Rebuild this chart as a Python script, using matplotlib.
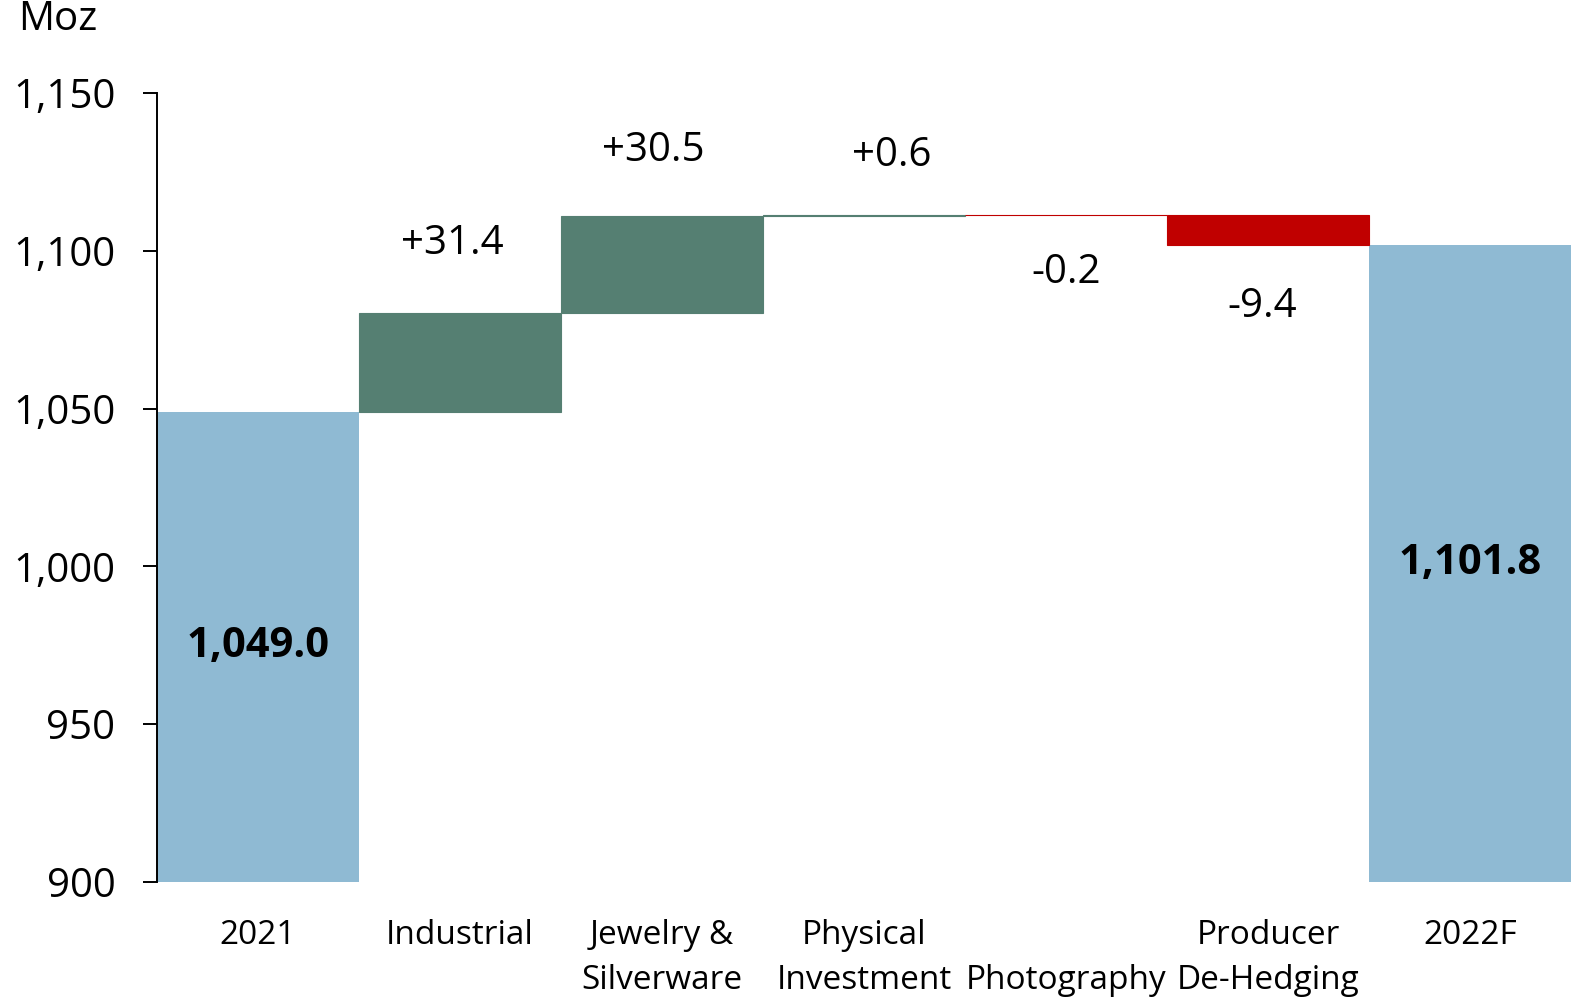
import matplotlib
matplotlib.use("Agg")
import matplotlib.pyplot as plt
import numpy as np

plt.rcParams['font.family'] = ['Open Sans', 'DejaVu Sans']

categories = ["2021", "Industrial", "Jewelry &\nSilverware", "Physical\nInvestment",
              "\nPhotography", "Producer\nDe-Hedging", "2022F"]
start_total = 1049.0
changes = [31.4, 30.5, 0.6, -0.2, -9.4]
end_total = 1101.8
yticks = [900, 950, 1000, 1050, 1100, 1150]

# label placement relative to the bar end, in pixels (dx, dy)
label_offsets = [(-8, 69), (-9, 66), (28, 59), (0, -58), (-6, -62)]

BLUE = "#8FBAD3"
GREEN = "#557F72"
RED = "#C00000"
Y_MIN, Y_MAX = 900, 1150
PX = 72 / 100  # points per pixel at 100 dpi

fig = plt.figure(figsize=(15.76, 10.02), dpi=100)
ax = fig.add_axes([157 / 1576, 120 / 1002, 1414 / 1576, 789 / 1002])

x = np.arange(len(categories))

# totals
ax.bar(x[0], start_total - Y_MIN, bottom=Y_MIN, width=1.0, color=BLUE)
ax.bar(x[-1], end_total - Y_MIN, bottom=Y_MIN, width=1.0, color=BLUE)

# floating changes
level = start_total
for i, (d, (dx, dy)) in enumerate(zip(changes, label_offsets), start=1):
    bottom = level if d >= 0 else level + d
    c = GREEN if d >= 0 else RED
    ax.bar(x[i], abs(d), bottom=bottom, width=1.0, color=c, edgecolor=c, linewidth=0.8)
    text = f"+{d:.1f}" if d >= 0 else f"{d:.1f}"
    ax.annotate(text, (x[i], level + d), xytext=(dx * PX, dy * PX), textcoords="offset points",
                ha="center", va="center", fontsize=29)
    level += d

ax.text(x[0], (Y_MIN + start_total) / 2, f"{start_total:,.1f}", ha="center", va="center",
        fontsize=30, fontweight="bold")
ax.text(x[-1], (Y_MIN + end_total) / 2, f"{end_total:,.1f}", ha="center", va="center",
        fontsize=30, fontweight="bold")

ax.set_xlim(-0.5, len(categories) - 0.5)
ax.set_ylim(Y_MIN, Y_MAX)
ax.set_yticks(yticks)
ax.set_yticklabels([f"{v:,}" for v in yticks], fontsize=29)
ax.set_xticks(x)
ax.set_xticklabels(categories, fontsize=24, linespacing=1.45, va="top")
ax.tick_params(axis="x", length=0, pad=27)
ax.tick_params(axis="y", length=10, width=1.4, pad=20, direction="out")

for s in ["top", "right", "bottom"]:
    ax.spines[s].set_visible(False)
ax.spines["left"].set_linewidth(1.4)
ax.spines["left"].set_zorder(5)

fig.text(18 / 1576, 1 - 20 / 1002, "Moz", ha="left", va="center", fontsize=29)

fig.savefig("out.png", dpi=100)
